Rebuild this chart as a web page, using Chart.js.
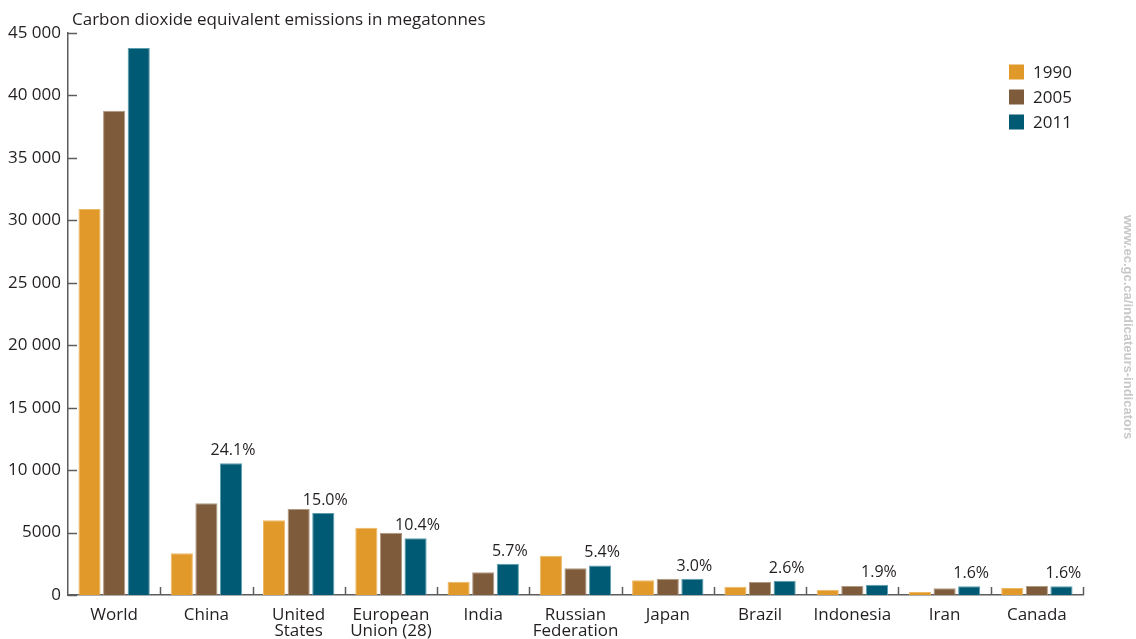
<!DOCTYPE html>
<html>
<head>
<meta charset="utf-8">
<script src="https://cdn.jsdelivr.net/npm/chart.js@4.4.1/dist/chart.umd.min.js"></script>
<style>
  html, body { margin: 0; padding: 0; background: #ffffff; }
  #wrap { width: 1136px; height: 639px; position: relative; }
</style>
</head>
<body>
<div id="wrap"><canvas id="chart" width="1136" height="639"></canvas></div>
<script>
// Greenhouse gas emissions by country (megatonnes CO2 eq.)
const categories = ['World', 'China', ['United', 'States'], ['European', 'Union (28)'], 'India',
  ['Russian', 'Federation'], 'Japan', 'Brazil', 'Indonesia', 'Iran', 'Canada'];
const years = ['1990', '2005', '2011'];
const emissions1990 = [30900, 3340, 5980, 5390, 1065, 3150, 1175, 665, 425, 240, 560];
const emissions2005 = [38780, 7340, 6885, 4990, 1815, 2135, 1305, 1040, 720, 535, 720];
const emissions2011 = [43800, 10550, 6570, 4550, 2500, 2365, 1300, 1140, 830, 700, 700];
// Share of world emissions in 2011 (%)
const share2011 = [null, 24.1, 15.0, 10.4, 5.7, 5.4, 3.0, 2.6, 1.9, 1.6, 1.6];
const yTicks = [0, 5000, 10000, 15000, 20000, 25000, 30000, 35000, 40000, 45000];

const colors = ['#E1992A', '#7E5B3B', '#005A73'];
const edgeColors = ['#EDB866', '#B19A83', '#5E9DAE'];
const FONT = '"Open Sans", "Noto Sans", sans-serif';
const TEXT = '#231f20';
const AXIS = '#5c5c5c';

function fmt(v) {
  if (v >= 10000) {
    const s = String(v);
    return s.slice(0, s.length - 3) + ' ' + s.slice(-3);
  }
  return String(v);
}

const decorations = {
  id: 'decorations',
  afterDatasetsDraw(chart) {
    const ctx = chart.ctx;
    const area = chart.chartArea;
    const y = chart.scales.y;
    ctx.save();
    ctx.strokeStyle = AXIS;
    ctx.lineWidth = 1.5;
    // inward ticks on the value axis
    yTicks.forEach(v => {
      const py = Math.round(y.getPixelForValue(v)) + 0.5;
      ctx.beginPath();
      ctx.moveTo(area.left, py);
      ctx.lineTo(area.left + 9, py);
      ctx.stroke();
    });
    // category separators on the baseline
    const n = categories.length;
    const w = (area.right - area.left) / n;
    for (let i = 1; i <= n; i++) {
      const px = Math.round(area.left + i * w) + 0.5;
      ctx.beginPath();
      ctx.moveTo(px, area.bottom);
      ctx.lineTo(px, area.bottom - 8);
      ctx.stroke();
    }
    // share labels over the 2011 bars
    const meta = chart.getDatasetMeta(2);
    ctx.fillStyle = TEXT;
    ctx.font = '16px ' + FONT;
    ctx.textAlign = 'center';
    ctx.textBaseline = 'alphabetic';
    share2011.forEach((s, i) => {
      if (s === null) return;
      const bar = meta.data[i];
      ctx.fillText(s.toFixed(1) + '%', bar.x + 2, bar.y - 8);
    });
    // heading
    ctx.textAlign = 'left';
    ctx.font = '17px ' + FONT;
    ctx.fillText('Carbon dioxide equivalent emissions in megatonnes', 72, 25);
    // legend
    chart.data.datasets.forEach((ds, i) => {
      const cy = 72 + i * 25;
      ctx.fillStyle = ds.backgroundColor;
      ctx.fillRect(1009, cy - 7.5, 15, 15);
      ctx.fillStyle = TEXT;
      ctx.textBaseline = 'middle';
      ctx.font = '17px ' + FONT;
      ctx.fillText(ds.label, 1033, cy + 1);
    });
    // source url
    ctx.translate(1128, 215);
    ctx.rotate(Math.PI / 2);
    ctx.fillStyle = '#c8c8c8';
    ctx.font = 'bold 13px "Liberation Sans", Arial, sans-serif';
    ctx.textAlign = 'left';
    ctx.textBaseline = 'middle';
    ctx.fillText('www.ec.gc.ca/indicateurs-indicators', 0, 0);
    ctx.restore();
  }
};

new Chart(document.getElementById('chart'), {
  type: 'bar',
  data: {
    labels: categories,
    datasets: [emissions1990, emissions2005, emissions2011].map((d, i) => ({
      label: years[i],
      data: d,
      backgroundColor: colors[i],
      borderColor: edgeColors[i],
      borderWidth: 1,
      categoryPercentage: 0.8,
      barPercentage: 0.9
    }))
  },
  options: {
    responsive: false,
    animation: false,
    layout: { padding: { top: 33, right: 53, left: 0, bottom: 0 } },
    plugins: {
      legend: { display: false },
      tooltip: { enabled: false }
    },
    scales: {
      x: {
        grid: { display: false, drawTicks: false },
        border: { display: true, color: AXIS, width: 1.5 },
        ticks: {
          color: TEXT,
          font: { family: FONT, size: 17, lineHeight: 0.95 },
          padding: 12,
          maxRotation: 0,
          autoSkip: false
        },
        afterFit(s) { s.height = 44; }
      },
      y: {
        min: 0,
        max: 45000,
        afterBuildTicks(s) { s.ticks = yTicks.map(v => ({ value: v })); },
        grid: { display: false, drawTicks: false },
        border: { display: true, color: AXIS, width: 1.5 },
        ticks: {
          color: TEXT,
          font: { family: FONT, size: 17 },
          padding: 7,
          callback: v => fmt(v)
        },
        afterFit(s) { s.width = 68; }
      }
    }
  },
  plugins: [decorations]
});
</script>
</body>
</html>
